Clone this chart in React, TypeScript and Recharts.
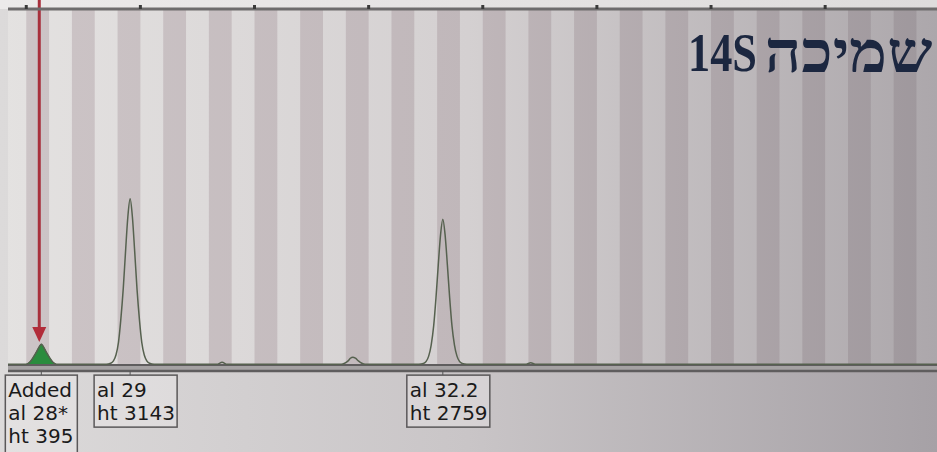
import {
  ComposedChart,
  Line,
  Area,
  XAxis,
  YAxis,
  ReferenceArea,
  ReferenceLine,
  ReferenceDot,
} from "recharts"

// size in bp, height in rfu
const trace: [number, number][] = [
  [199.2, 15], [200.0, 15], [200.16, 60], [200.31, 150], [200.46, 260],
  [200.56, 340], [200.66, 395], [200.76, 340], [200.86, 260], [201.01, 150],
  [201.16, 60], [201.32, 15], [202.5, 15], [203.5, 15], [203.7, 35],
  [203.82, 80], [203.93, 190], [204.04, 430], [204.14, 850], [204.25, 1450],
  [204.35, 2150], [204.45, 2800], [204.55, 3143], [204.65, 2800], [204.75, 2150],
  [204.85, 1450], [204.96, 850], [205.06, 430], [205.17, 190], [205.28, 80],
  [205.4, 35], [205.6, 15], [207.0, 15], [208.35, 15], [208.58, 55],
  [208.8, 15], [211.0, 15], [213.8, 15], [213.95, 35], [214.1, 80],
  [214.2, 130], [214.31, 150], [214.42, 130], [214.55, 80], [214.7, 35],
  [214.85, 15], [216.0, 15], [217.2, 15], [217.4, 30], [217.52, 70],
  [217.63, 170], [217.74, 380], [217.85, 745], [217.95, 1270], [218.05, 1890],
  [218.15, 2460], [218.25, 2759], [218.35, 2460], [218.45, 1890], [218.55, 1270],
  [218.65, 745], [218.76, 380], [218.87, 170], [218.98, 70], [219.1, 30],
  [219.3, 15], [220.5, 15], [221.9, 15], [222.1, 45], [222.3, 15],
  [226.0, 15], [232.0, 15], [239.9, 15],
]

const addedPeak: [number, number][] = [
  [200.0, 15], [200.16, 60], [200.31, 150], [200.46, 260], [200.56, 340],
  [200.66, 395], [200.76, 340], [200.86, 260], [201.01, 150], [201.16, 60],
  [201.32, 15],
]

const binStarts = [
  200, 202, 204, 206, 208, 210, 212, 214, 216, 218,
  220, 222, 224, 226, 228, 230, 232, 234, 236, 238,
]

const sizeTicks = [200, 205, 210, 215, 220, 225, 230, 235]

const callBp = [200.66, 204.55, 218.25]
const callText = [
  ["Added", "al 28*", "ht 395"],
  ["al 29", "ht 3143"],
  ["al 32.2", "ht 2759"],
]

const markerBp = 200.57

const traceData = trace.map(([bp, rfu]) => ({ bp, rfu }))
const addedData = addedPeak.map(([bp, rfu]) => ({ bp, rfu }))

function CallBox(lines: string[]) {
  return (props: any) => {
    const { cx, cy } = props
    const longest = Math.max(...lines.map((l) => l.length))
    const w = longest * 11 + 6
    const h = lines.length * 23 + 6
    const left = cx - 36
    const top = cy + 10
    return (
      <g>
        <line x1={cx} y1={cy + 6} x2={cx} y2={top} stroke="#555" strokeWidth={1} />
        <rect
          x={left}
          y={top}
          width={w}
          height={lines.length > 2 ? h + 4 : h}
          fill="rgba(240,238,238,0.35)"
          stroke="#5a5859"
          strokeWidth={1.5}
        />
        {lines.map((t, i) => (
          <text
            key={i}
            x={left + 3}
            y={top + 22 + i * 23}
            fontSize={20}
            fontFamily="DejaVu Sans"
            fill="#1a1a1a"
          >
            {t}
          </text>
        ))}
      </g>
    )
  }
}

function Arrow(props: any) {
  const { x1, y1, x2, y2 } = props
  const top = Math.min(y1, y2)
  const tip = Math.max(y1, y2)
  const x = (x1 + x2) / 2
  return (
    <g>
      <line x1={x} y1={top} x2={x} y2={tip - 14} stroke="#a8303c" strokeWidth={3} />
      <polygon
        points={`${x - 7},${tip - 15} ${x + 7},${tip - 15} ${x},${tip}`}
        fill="#b22c3a"
      />
    </g>
  )
}

const titleStyle = {
  position: "absolute" as const,
  top: 26,
  fontFamily: "Liberation Serif",
  fontWeight: 700,
  lineHeight: "54px",
  color: "#1c2740",
  whiteSpace: "nowrap" as const,
}

function App() {
  return (
    <div
      style={{
        position: "fixed",
        left: 0,
        top: 0,
        width: 937,
        height: 452,
        background: "linear-gradient(90deg, #dcdada 0%, #c9c5c7 50%, #a6a1a6 100%)",
        overflow: "hidden",
      }}
    >
      <div
        style={{
          position: "absolute",
          left: 0,
          top: 0,
          width: 937,
          height: 9,
          background: "linear-gradient(90deg, #eceaea, #dedcdc)",
        }}
      />
      <ComposedChart
        width={937}
        height={452}
        margin={{ top: 8, right: 0, left: 8, bottom: 80 }}
      >
        <defs>
          <linearGradient id="lightBg" gradientUnits="userSpaceOnUse" x1="0" y1="0" x2="937" y2="0">
            <stop offset="0%" stopColor="#e4e2e1" />
            <stop offset="50%" stopColor="#d4d0d1" />
            <stop offset="100%" stopColor="#aca7ab" />
          </linearGradient>
          <linearGradient id="darkBin" gradientUnits="userSpaceOnUse" x1="0" y1="0" x2="937" y2="0">
            <stop offset="0%" stopColor="#cdc5c7" />
            <stop offset="50%" stopColor="#c0b7ba" />
            <stop offset="100%" stopColor="#9e979c" />
          </linearGradient>
        </defs>

        <YAxis yAxisId={0} type="number" domain={[-130, 6730]} hide allowDataOverflow />

        <ReferenceArea
          x1={199.2}
          x2={239.9}
          fill="url(#lightBg)"
          fillOpacity={1}
          stroke="none"
        />
        {binStarts.map((b) => (
          <ReferenceArea
            key={b}
            x1={b}
            x2={b + 1}
            fill="url(#darkBin)"
            fillOpacity={1}
            stroke="none"
          />
        ))}
        <ReferenceArea
          x1={199.2}
          x2={239.9}
          y1={-125}
          y2={0}
          fill="#a5a2a3"
          fillOpacity={1}
          stroke="none"
        />
        <ReferenceLine y={0} stroke="#5f5d5e" strokeWidth={2} />
        <ReferenceLine y={-110} stroke="#5f5d5e" strokeWidth={2.5} />

        <XAxis
          xAxisId={0}
          dataKey="bp"
          type="number"
          orientation="top"
          domain={[199.2, 239.9]}
          ticks={sizeTicks}
          allowDataOverflow
          height={1}
          tick={() => <g />}
          tickSize={4}
          axisLine={{ stroke: "#6e6c6d", strokeWidth: 3 }}
          tickLine={{ stroke: "#3a3a3a", strokeWidth: 3 }}
        />

        <Line
          data={traceData}
          dataKey="rfu"
          type="monotone"
          stroke="#56614f"
          strokeWidth={1.5}
          dot={false}
          isAnimationActive={false}
        />
        <Area
          data={addedData}
          dataKey="rfu"
          type="monotone"
          baseValue={0}
          stroke="#23803a"
          strokeWidth={1}
          fill="#2a8c3e"
          fillOpacity={1}
          isAnimationActive={false}
        />

        <ReferenceLine
          segment={[
            { x: markerBp, y: 6900 },
            { x: markerBp, y: 435 },
          ]}
          ifOverflow="visible"
          shape={Arrow}
        />

        {callBp.map((bp, i) => (
          <ReferenceDot
            key={bp}
            x={bp}
            y={0}
            r={0}
            ifOverflow="visible"
            shape={CallBox(callText[i])}
          />
        ))}
      </ComposedChart>
      <div
        style={{
          ...titleStyle,
          left: 688,
          fontSize: 54,
          transform: "scaleX(0.82)",
          transformOrigin: "left",
        }}
      >
        14S
      </div>
      <div
        style={{
          ...titleStyle,
          right: 5,
          fontSize: 58,
          transform: "scaleX(1.1)",
          transformOrigin: "right",
        }}
      >
        שמיכה
      </div>
    </div>
  )
}

export default App
